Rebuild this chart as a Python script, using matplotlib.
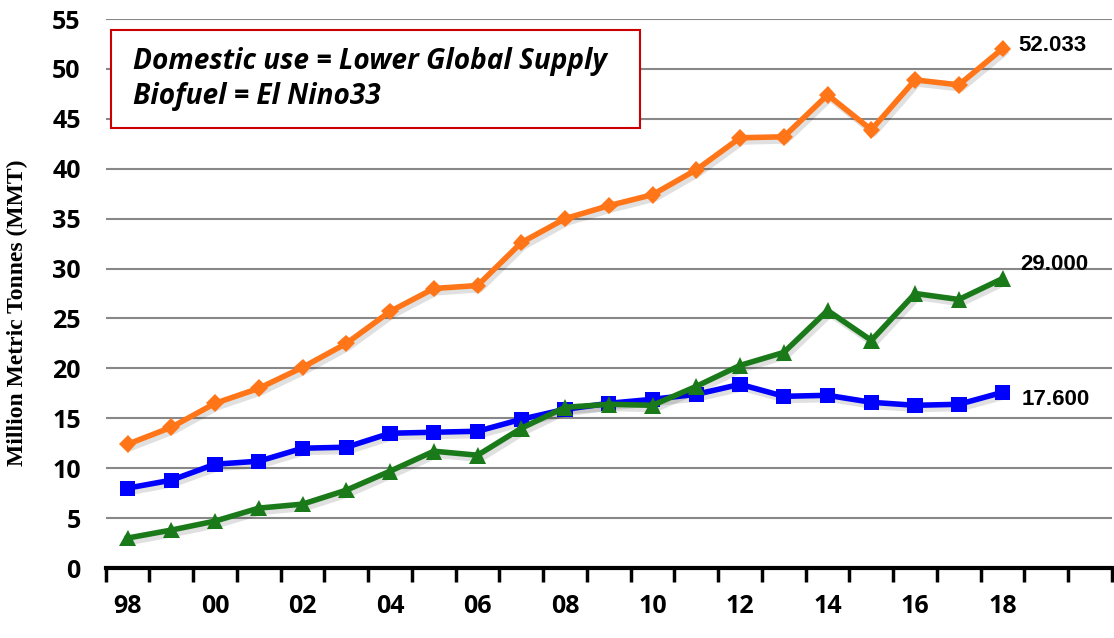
import matplotlib
matplotlib.use('Agg')
import matplotlib.pyplot as plt
import matplotlib.patheffects as pe
from matplotlib.patches import Rectangle

years = ['98', '99', '00', '01', '02', '03', '04', '05', '06', '07', '08',
         '09', '10', '11', '12', '13', '14', '15', '16', '17', '18']
tick_labels = ['98', '00', '02', '04', '06', '08', '10', '12', '14', '16', '18']

orange_vals = [12.4, 14.1, 16.5, 18.0, 20.1, 22.5, 25.7, 28.0, 28.3, 32.6, 35.0,
               36.3, 37.4, 39.9, 43.1, 43.2, 47.4, 43.9, 48.9, 48.4, 52.033]
blue_vals = [8.0, 8.8, 10.4, 10.7, 12.0, 12.1, 13.5, 13.6, 13.7, 14.9, 15.9,
             16.5, 16.9, 17.4, 18.4, 17.2, 17.3, 16.6, 16.3, 16.4, 17.6]
green_vals = [3.0, 3.8, 4.7, 6.0, 6.4, 7.8, 9.7, 11.7, 11.3, 14.0, 16.1,
              16.4, 16.3, 18.2, 20.3, 21.6, 25.8, 22.8, 27.5, 26.9, 29.0]
end_labels = ['52.033', '17.600', '29.000']
n_slots = 23  # axis runs on to 2020 with two empty slots

W, H = 1114, 638
fig = plt.figure(figsize=(W / 100, H / 100), dpi=100)
ax = fig.add_axes([105.7 / W, 1 - 568 / H, (1112 - 105.7) / W, (568 - 19) / H])

x = list(range(len(years)))
shadow = [pe.SimpleLineShadow(offset=(2, -3), shadow_color='black', alpha=0.12, rho=0.6), pe.Normal()]

series = [
    (orange_vals, '#ff7518', 'D', 9),
    (blue_vals, '#0000ff', 's', 11),
    (green_vals, '#1a7a1a', '^', 12),
]
for vals, col, mk, ms in series:
    ax.plot(x, vals, color=col, lw=4, marker=mk, markersize=ms, markeredgewidth=0,
            path_effects=shadow, zorder=3)

offsets = [(11, 2), (14, -5), (13, 10)]
for vals, lab, off in zip([orange_vals, blue_vals, green_vals], end_labels, offsets):
    ax.annotate(lab, (x[-1], vals[-1]), xytext=off, textcoords='offset points',
                fontsize=16, fontweight='bold', family='Liberation Sans',
                va='center', ha='left')

ax.set_xlim(-0.5, n_slots - 0.5)
ax.set_ylim(0, 55)
ax.set_yticks(range(0, 56, 5))
ax.set_yticklabels([str(v) for v in range(0, 56, 5)], fontsize=18, fontweight='bold', family='Open Sans')
ax.yaxis.grid(True, color='#888888', lw=1.5)
ax.set_axisbelow(True)

ax.set_xticks([i - 0.5 for i in range(n_slots + 1)])
ax.set_xticklabels([])
ax.set_xticks(range(0, len(years), 2), minor=True)
ax.set_xticklabels(tick_labels, minor=True, fontsize=18, fontweight='bold', family='Open Sans')
ax.tick_params(axis='x', which='major', direction='out', length=10, width=2.5, color='black')
ax.tick_params(axis='x', which='minor', length=0, pad=19)
ax.tick_params(axis='y', length=0, pad=18)

for s in ['top', 'right', 'left']:
    ax.spines[s].set_visible(False)
ax.spines['bottom'].set_linewidth(3)

ax.set_ylabel('Million Metric Tonnes (MMT)', family='Liberation Serif', fontweight='bold',
              fontsize=17)
ax.yaxis.set_label_coords(-0.077, 0.465)

# note box
fig.patches.append(Rectangle((111 / W, 1 - 128 / H), 529 / W, 98 / H, transform=fig.transFigure,
                             facecolor='white', edgecolor='#cc0000', lw=1.5, zorder=5))
fig.text(133 / W, 1 - 79 / H, 'Domestic use = Lower Global Supply\nBiofuel = El Nino33',
         fontsize=20.2, fontweight='bold', style='italic', family='Open Sans',
         va='center', ha='left', linespacing=1.25, zorder=6)

fig.savefig('out.png', dpi=100)
